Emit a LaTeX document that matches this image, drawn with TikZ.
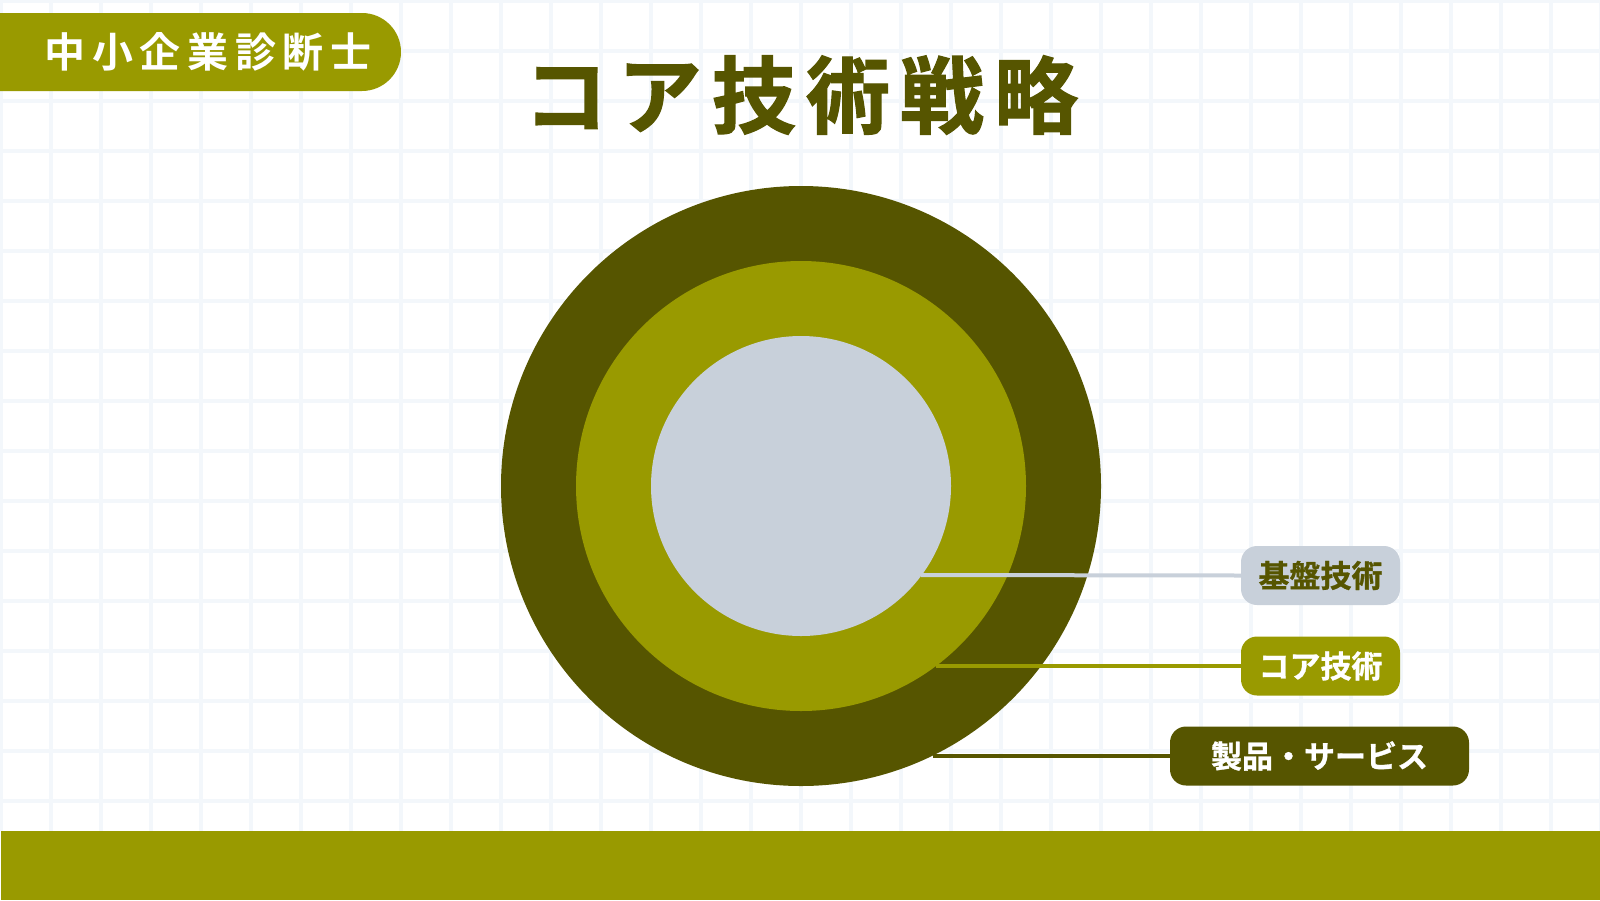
\documentclass[tikz,border=0pt]{standalone}
\usepackage{fontspec}
\setmainfont{Noto Sans CJK JP}
\newfontfamily\jpbold[FakeBold=1]{Noto Sans CJK JP Bold}
\newfontfamily\jptitle[LetterSpace=12,FakeBold=1.5]{Noto Sans CJK JP Bold}
\newfontfamily\jpbadge[LetterSpace=16]{Noto Sans CJK JP Bold}
\definecolor{darkolive}{HTML}{565500}
\definecolor{olive}{HTML}{999A00}
\definecolor{paleblue}{HTML}{C8D0DA}
\definecolor{gridc}{HTML}{F3F7FB}
\tikzset{
  gridline/.style={draw=gridc, line width=4pt},
  pill/.style={rounded corners=16pt, minimum height=59pt, inner sep=0pt, font=\jpbold\fontsize{31}{31}\selectfont},
  leader/.style={line width=4pt}
}
\begin{document}
\begin{tikzpicture}[x=1pt,y=-1pt]
\useasboundingbox (0,0) rectangle (1600,900);
\fill[white] (0,0) rectangle (1600,900);
% grid
\foreach \i in {0,...,32}{\draw[gridline] (50*\i+1,0) -- (50*\i+1,831);}
\foreach \j in {0,...,16}{\draw[gridline] (0,50*\j+1) -- (1600,50*\j+1);}
% badge
\fill[olive] (0,13) -- (362,13) arc[start angle=-90,end angle=90,radius=39] -- (0,91) -- cycle;
\node[anchor=center, text=white, inner sep=0pt, font=\jpbadge\fontsize{41}{41}\selectfont] (badge) at (208,52) {中小企業診断士};
% title
\node[anchor=center, text=darkolive, inner sep=0pt, font=\jptitle\fontsize{84}{84}\selectfont] (title) at (801,95) {コア技術戦略};
% circles
\node[circle, fill=darkolive, minimum size=600pt, inner sep=0pt] (outer) at (801,486) {};
\node[circle, fill=olive, minimum size=450pt, inner sep=0pt] (middle) at (801,486) {};
\node[circle, fill=paleblue, minimum size=300pt, inner sep=0pt] (inner) at (801,486) {};
% pills
\node[pill, fill=paleblue, text=darkolive, minimum width=159pt] (base) at (1320.5,575.5) {基盤技術};
\node[pill, fill=olive, text=white, minimum width=159pt] (core) at (1320.5,666) {コア技術};
\node[pill, fill=darkolive, text=white, minimum width=299pt] (prod) at (1319.5,756) {製品・サービス};
% leader start points on circle edges
\coordinate (baseS) at (921,575);
\coordinate (coreS) at (936,666);
\coordinate (prodS) at (933,756);
\draw[leader, draw=paleblue] (baseS) -- (base.west);
\draw[leader, draw=olive] (coreS) -- (core.west);
\draw[leader, draw=darkolive] (prodS) -- (prod.west);
% bottom band
\fill[olive] (1,831) rectangle (1600,900);
\end{tikzpicture}
\end{document}
